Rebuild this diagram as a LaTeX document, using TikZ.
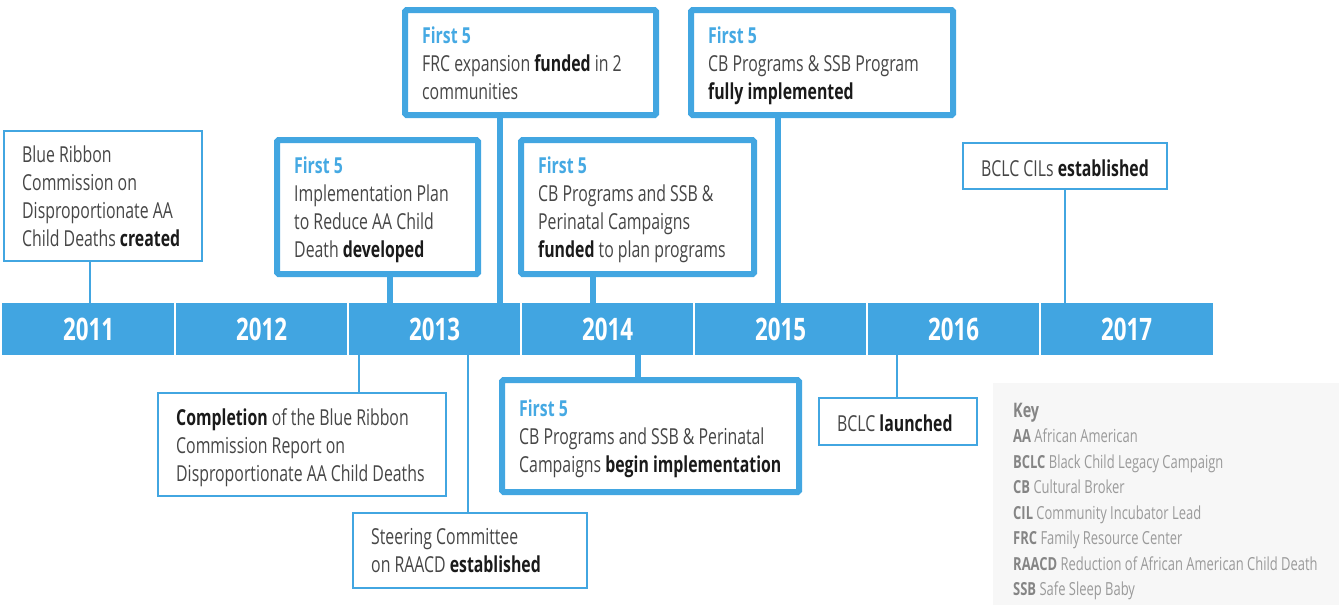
\documentclass[tikz,border=0pt]{standalone}
\usepackage{fontspec}
\setmainfont{Open Sans}[FakeStretch=0.72]
\definecolor{barblue}{HTML}{41A5E1}
\definecolor{boxblue}{HTML}{42A6E1}
\definecolor{firstblue}{HTML}{45A9E3}
\definecolor{bodyink}{HTML}{464646}
\definecolor{boldink}{HTML}{1A1A1A}
\definecolor{keyfill}{HTML}{F7F7F7}
\definecolor{keybold}{HTML}{858585}
\definecolor{keyink}{HTML}{9A9A9A}
\newcommand\firstfive{{\color{firstblue}\bfseries First 5}}
\newcommand\emphb[1]{\textcolor{boldink}{\bfseries #1}}
\newcommand\keyab[1]{\textcolor{keybold}{\bfseries #1}}
\tikzset{
  thinbox/.style={draw=boxblue, line width=2pt, fill=white, inner sep=0pt},
  thickbox/.style={draw=boxblue, line width=6pt, fill=white, inner sep=0pt, rounded corners=1.5pt},
  thinlink/.style={draw=boxblue, line width=2pt},
  thicklink/.style={draw=boxblue, line width=6pt},
  seg/.style={fill=barblue, minimum width=173pt, minimum height=52pt, inner sep=0pt,
    text=white, font=\fontsize{31}{36}\selectfont\bfseries},
  segline/.style={draw=white, line width=1.5pt},
  txt/.style={anchor=west, align=left, inner sep=0pt, text=bodyink,
    font=\fontsize{22}{28}\selectfont, yshift=-4.5pt,
    execute at begin node=\strut, execute at end node=\strut},
}
\begin{document}
\begin{tikzpicture}[x=1pt, y=-1pt]
\useasboundingbox (0,0) rectangle (1339,605);

% key panel
\fill[keyfill] (993,383) rectangle (1339,605);

% timeline bar
\foreach \yr [count=\i from 0] in {2011,...,2017}
  \node[seg] (s\yr) at ({2+86.5+173*\i},329) {\yr};
\foreach \yr in {2011,...,2016}
  \draw[segline] (s\yr.north east) -- (s\yr.south east);

% event boxes above the bar
\node[thinbox,  minimum width=198pt, minimum height=130pt] (b1) at (103,196) {};
\node[thickbox, minimum width=201pt, minimum height=134pt] (b2) at (377.5,207) {};
\node[thickbox, minimum width=251pt, minimum height=105pt] (b3) at (530.5,62.5) {};
\node[thickbox, minimum width=233pt, minimum height=134pt] (b4) at (637.5,207) {};
\node[thickbox, minimum width=262pt, minimum height=105pt] (b5) at (822,62.5) {};
\node[thinbox,  minimum width=204pt, minimum height=46pt]  (b6) at (1065,166) {};
% event boxes below the bar
\node[thinbox,  minimum width=288pt, minimum height=103pt] (b7) at (302,444.5) {};
\node[thinbox,  minimum width=234pt, minimum height=75pt]  (b8) at (470,550.5) {};
\node[thickbox, minimum width=297pt, minimum height=112pt] (b9) at (650.5,436) {};
\node[thinbox,  minimum width=158pt, minimum height=47pt]  (b10) at (898,421.5) {};

% box texts
\node[txt] (t1) at ([xshift=19pt]b1.west) {Blue Ribbon\\Commission on\\Disproportionate AA\\Child Deaths \emphb{created}};
\node[txt] (t2) at ([xshift=20pt]b2.west) {\firstfive\\Implementation Plan\\to Reduce AA Child\\Death \emphb{developed}};
\node[txt] (t3) at ([xshift=20pt]b3.west) {\firstfive\\FRC expansion \emphb{funded} in 2\\communities};
\node[txt] (t4) at ([xshift=20pt]b4.west) {\firstfive\\CB Programs and SSB \&\\Perinatal Campaigns\\\emphb{funded} to plan programs};
\node[txt] (t5) at ([xshift=20pt]b5.west) {\firstfive\\CB Programs \& SSB Program\\\emphb{fully implemented}};
\node[txt] (t6) at ([xshift=19pt]b6.west) {BCLC CILs \emphb{established}};
\node[txt] (t7) at ([xshift=19pt]b7.west) {\emphb{Completion} of the Blue Ribbon\\Commission Report on\\Disproportionate AA Child Deaths};
\node[txt] (t8) at ([xshift=19pt]b8.west) {Steering Committee\\on RAACD \emphb{established}};
\node[txt] (t9) at ([xshift=20pt]b9.west) {\firstfive\\CB Programs and SSB \& Perinatal\\Campaigns \emphb{begin implementation}};
\node[txt] (t10) at ([xshift=19pt]b10.west) {BCLC \emphb{launched}};

% connector positions along the bar
\coordinate (p1) at (90,0);
\coordinate (p2) at (390,0);
\coordinate (p3) at (500,0);
\coordinate (p4) at (593,0);
\coordinate (p5) at (778,0);
\coordinate (p6) at (1065,0);
\coordinate (p7) at (359,0);
\coordinate (p8) at (468,0);
\coordinate (p9) at (638,0);
\coordinate (p10) at (897,0);

\draw[thinlink]  (p1 |- b1.south) -- (p1 |- s2011.north);
\draw[thicklink] (p2 |- b2.south) -- (p2 |- s2013.north);
\draw[thicklink] (p3 |- b3.south) -- (p3 |- s2013.north);
\draw[thicklink] (p4 |- b4.south) -- (p4 |- s2014.north);
\draw[thicklink] (p5 |- b5.south) -- (p5 |- s2015.north);
\draw[thinlink]  (p6 |- b6.south) -- (p6 |- s2017.north);
\draw[thinlink]  (p7 |- s2013.south) -- (p7 |- b7.north);
\draw[thinlink]  (p8 |- s2013.south) -- (p8 |- b8.north);
\draw[thicklink] (p9 |- s2014.south) -- (p9 |- b9.north);
\draw[thinlink]  (p10 |- s2016.south) -- (p10 |- b10.north);

% key
\node[anchor=base west, inner sep=0pt, text=keybold, font=\fontsize{20}{24}\selectfont\bfseries] (keyhead) at (1013,417) {Key};
\node[anchor=north west, align=left, inner sep=0pt, text=keyink,
  font=\fontsize{18}{25.5}\selectfont, execute at begin node=\strut] (keylist) at (1013,429)
  {\keyab{AA} African American\\
   \keyab{BCLC} Black Child Legacy Campaign\\
   \keyab{CB} Cultural Broker\\
   \keyab{CIL} Community Incubator Lead\\
   \keyab{FRC} Family Resource Center\\
   \keyab{RAACD} Reduction of African American Child Death\\
   \keyab{SSB} Safe Sleep Baby};
\end{tikzpicture}
\end{document}
